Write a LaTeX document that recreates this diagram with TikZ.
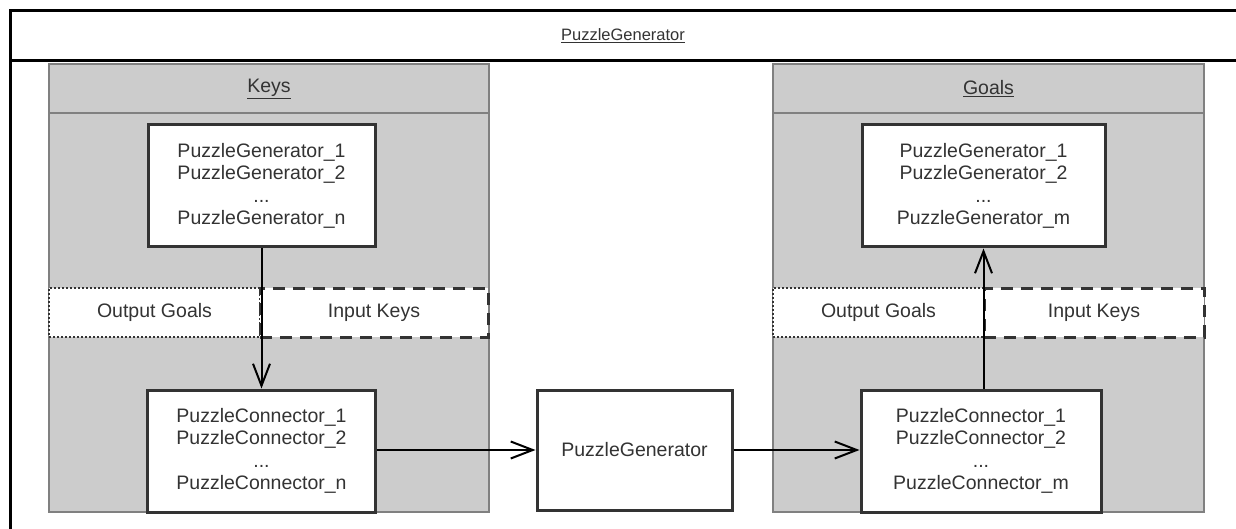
\documentclass[tikz,border=0pt]{standalone}
\usepackage{fontspec}
\setmainfont{Liberation Sans}
\usetikzlibrary{arrows.meta}
\definecolor{txt}{HTML}{333333}
\definecolor{graybg}{HTML}{CCCCCC}
\definecolor{grayline}{HTML}{808080}
\begin{document}
\begin{tikzpicture}[x=1pt,y=-1pt,
  container/.style={draw=grayline,line width=1.5pt,fill=graybg,rectangle,inner sep=0pt},
  itembox/.style={draw=txt,line width=3pt,fill=white,rectangle,inner sep=0pt,align=center,
    text=txt,font=\fontsize{19.5}{22.5}\selectfont},
  dotbox/.style={draw=txt,line width=2pt,dash pattern=on 2pt off 2pt,fill=white,rectangle,inner sep=0pt,
    text=txt,font=\fontsize{19.5}{22}\selectfont},
  dashbox/.style={draw=txt,line width=3pt,dash pattern=on 12pt off 8pt,fill=white,rectangle,inner sep=0pt,
    text=txt,font=\fontsize{19.5}{22}\selectfont},
  lbl/.style={text=txt,inner sep=0pt,font=\fontsize{19.5}{22}\selectfont},
  conn/.style={draw=black,line width=2pt,-{Straight Barb[length=22pt,width=17pt,line width=2pt]}}
]
\useasboundingbox (0,0) rectangle (1236,529);
% outer frame
\draw[line width=3pt,black] (10,540) -- (10,11) -- (1250,11);
\draw[line width=3pt,black] (10,61) -- (1250,61);
\node[lbl,font=\fontsize{16.5}{20}\selectfont] (title) at (623,36) {\underline{PuzzleGenerator}};

% containers
\node[container,minimum width=440pt,minimum height=448pt] (keys) at (269,288) {};
\draw[grayline,line width=1.5pt] (49,113) -- (489,113);
\node[lbl] (keyst) at (269,89) {\underline{Keys}};

\node[container,minimum width=431pt,minimum height=448pt] (goals) at (988.5,288) {};
\draw[grayline,line width=1.5pt] (773,113) -- (1204,113);
\node[lbl] (goalst) at (988.5,89) {\underline{Goals}};

% label strips
\node[dotbox,minimum width=211pt,minimum height=49pt] (kout) at (154.5,312.5) {Output Goals};
\node[dashbox,minimum width=228pt,minimum height=49pt] (kin) at (374,312.5) {Input Keys};
\node[dotbox,minimum width=211pt,minimum height=49pt] (gout) at (878.5,312.5) {Output Goals};
\node[dashbox,minimum width=220pt,minimum height=49pt] (gin) at (1094,312.5) {Input Keys};

% item boxes
\node[itembox,minimum width=227pt,minimum height=122pt] (kgen) at (261.5,186)
  {PuzzleGenerator\_1\\PuzzleGenerator\_2\\...\\PuzzleGenerator\_n};
\node[itembox,minimum width=228pt,minimum height=122pt] (kcon) at (261.5,451)
  {PuzzleConnector\_1\\PuzzleConnector\_2\\...\\PuzzleConnector\_n};
\node[itembox,minimum width=195pt,minimum height=120pt] (gen) at (634.5,450) {PuzzleGenerator};
\node[itembox,minimum width=243pt,minimum height=122pt] (ggen) at (983.5,186)
  {PuzzleGenerator\_1\\PuzzleGenerator\_2\\...\\PuzzleGenerator\_m};
\node[itembox,minimum width=240pt,minimum height=122pt] (gcon) at (981,451)
  {PuzzleConnector\_1\\PuzzleConnector\_2\\...\\PuzzleConnector\_m};

% connectors
\draw[conn] (kgen.south) -- (kgen.south |- kcon.north);
\draw[conn] (kcon.east |- gen.west) -- (gen.west);
\draw[conn] (gen.east) -- (gen.east -| gcon.west);
\draw[conn] (ggen.south |- gcon.north) -- (ggen.south);
\end{tikzpicture}
\end{document}
